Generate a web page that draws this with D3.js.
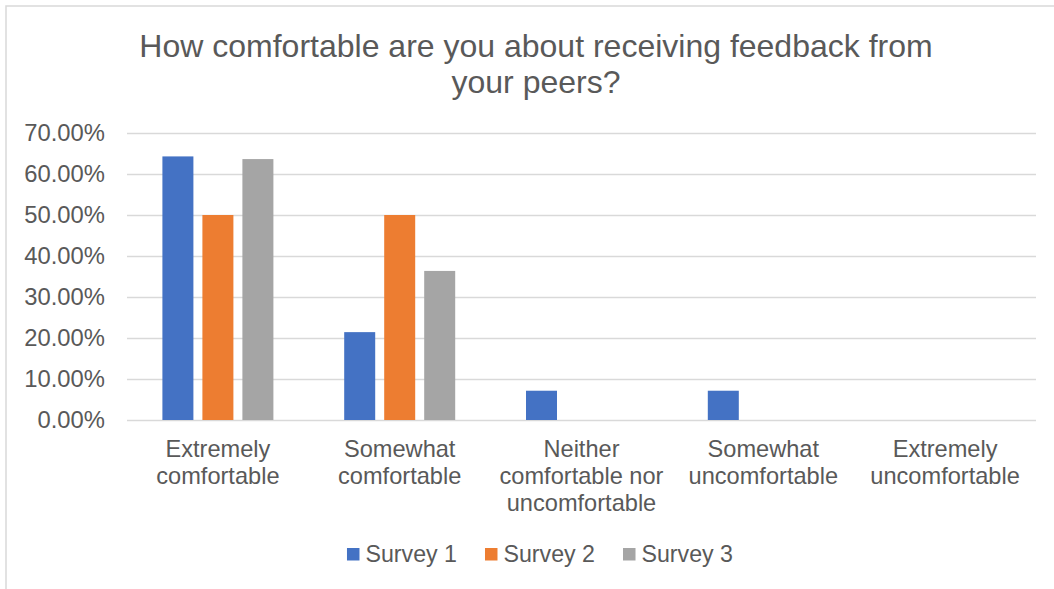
<!DOCTYPE html>
<html>
<head>
  <meta charset="utf-8">
  <title>How comfortable are you about receiving feedback from your peers?</title>
  <style>
    body {
      margin: 0;
      padding: 0;
      background: white;
      font-family: "Liberation Sans", Arial, sans-serif;
    }
    .grid line {
      stroke: #d9d9d9;
      stroke-width: 1.3;
    }
    .grid path {
      display: none;
    }
    .tick text {
      fill: #595959;
    }
  </style>
</head>
<body>
  <div id="chart"></div>
  <script src="https://d3js.org/d3.v7.min.js"></script>
  <script>
    // categories (x axis labels, split into lines as in the chart)
    var categories = [
      "Extremely comfortable",
      "Somewhat comfortable",
      "Neither comfortable nor uncomfortable",
      "Somewhat uncomfortable",
      "Extremely uncomfortable"
    ]
    var categoryLines = [
      ["Extremely", "comfortable"],
      ["Somewhat", "comfortable"],
      ["Neither", "comfortable nor", "uncomfortable"],
      ["Somewhat", "uncomfortable"],
      ["Extremely", "uncomfortable"]
    ]

    // series values (share of answers)
    var seriesNames = ["Survey 1", "Survey 2", "Survey 3"]
    var survey1 = [0.6429, 0.2143, 0.0714, 0.0714, 0]
    var survey2 = [0.50, 0.50, 0, 0, 0]
    var survey3 = [0.6364, 0.3636, 0, 0, 0]
    var seriesColors = ["#4472C4", "#ED7D31", "#A5A5A5"]

    var yTicks = [0, 0.1, 0.2, 0.3, 0.4, 0.5, 0.6, 0.7]

    var width = 1054,
      height = 589

    var margin = { top: 133, right: 18, bottom: 169, left: 127 }

    var svg = d3.select("#chart")
      .append("svg")
      .attr("width", width)
      .attr("height", height)

    // chart frame (only the top and left edges are visible in the picture)
    svg.append("rect")
      .attr("x", 6)
      .attr("y", 6)
      .attr("width", width)
      .attr("height", height)
      .attr("fill", "none")
      .attr("stroke", "#d9d9d9")
      .attr("stroke-width", 1.5)

    // title
    var title = svg.append("text")
      .attr("text-anchor", "middle")
      .attr("fill", "#595959")
      .style("font-size", "32px")
    title.append("tspan").attr("x", 536).attr("y", 57)
      .text("How comfortable are you about receiving feedback from")
    title.append("tspan").attr("x", 536).attr("y", 93)
      .text("your peers?")

    var x0 = d3.scaleBand()
      .domain(categories)
      .range([margin.left, width - margin.right])

    var groupWidth = 111
    var x1 = d3.scaleBand()
      .domain(seriesNames)
      .range([(x0.bandwidth() - groupWidth) / 2, (x0.bandwidth() + groupWidth) / 2])
      .paddingInner(0.225)

    var y = d3.scaleLinear()
      .domain([0, 0.7])
      .range([height - margin.bottom, margin.top])

    // gridlines + y tick labels
    var yAxis = svg.append("g")
      .attr("class", "grid")
      .attr("transform", "translate(" + margin.left + ",0)")
      .call(d3.axisLeft(y)
        .tickValues(yTicks)
        .tickFormat(d3.format(".2%"))
        .tickSize(-(width - margin.left - margin.right))
        .tickPadding(22))
    yAxis.selectAll("text")
      .style("font-size", "23.8px")
      .style("font-family", "'Liberation Sans', Arial, sans-serif")

    // bars
    var values = [survey1, survey2, survey3]
    var rows = categories.map(function(c, i) {
      return seriesNames.map(function(s, j) {
        return { category: c, series: s, value: values[j][i], color: seriesColors[j] }
      })
    })

    svg.append("g")
      .selectAll("g")
      .data(rows)
      .enter().append("g")
      .attr("transform", function(d) {
        return "translate(" + x0(d[0].category) + ",0)"
      })
      .selectAll("rect")
      .data(function(d) { return d.filter(function(e) { return e.value > 0 }) })
      .enter().append("rect")
      .attr("x", function(d) { return x1(d.series) })
      .attr("width", x1.bandwidth())
      .attr("y", function(d) { return y(d.value) })
      .attr("height", function(d) { return y(0) - y(d.value) })
      .attr("fill", function(d) { return d.color })

    // category labels
    var xAxis = svg.append("g")
      .attr("transform", "translate(0," + y(0) + ")")
      .call(d3.axisBottom(x0).tickSize(0).tickFormat(""))
    xAxis.select(".domain").remove()

    var labels = svg.append("g")
      .selectAll("text")
      .data(categories)
      .enter().append("text")
      .attr("text-anchor", "middle")
      .attr("fill", "#595959")
      .style("font-size", "23.6px")
    labels.each(function(d, i) {
      var t = d3.select(this)
      categoryLines[i].forEach(function(line, k) {
        t.append("tspan")
          .attr("x", x0(d) + x0.bandwidth() / 2)
          .attr("y", 457 + k * 27)
          .text(line)
      })
    })

    // legend
    var legend = svg.append("g")
    var items = legend.selectAll("g")
      .data(seriesNames)
      .enter().append("g")
    items.append("rect")
      .attr("width", 12.5)
      .attr("height", 12.5)
      .attr("y", -14)
      .attr("fill", function(d, i) { return seriesColors[i] })
    items.append("text")
      .attr("x", 18.5)
      .attr("fill", "#595959")
      .style("font-size", "23.2px")
      .text(function(d) { return d })

    var offset = 0
    items.each(function() {
      var g = d3.select(this)
      g.attr("transform", "translate(" + offset + ",0)")
      offset += this.getBBox().width + 28
    })
    var legendWidth = offset - 28
    legend.attr("transform", "translate(" + (540 - legendWidth / 2) + ",562)")
  </script>
</body>
</html>
